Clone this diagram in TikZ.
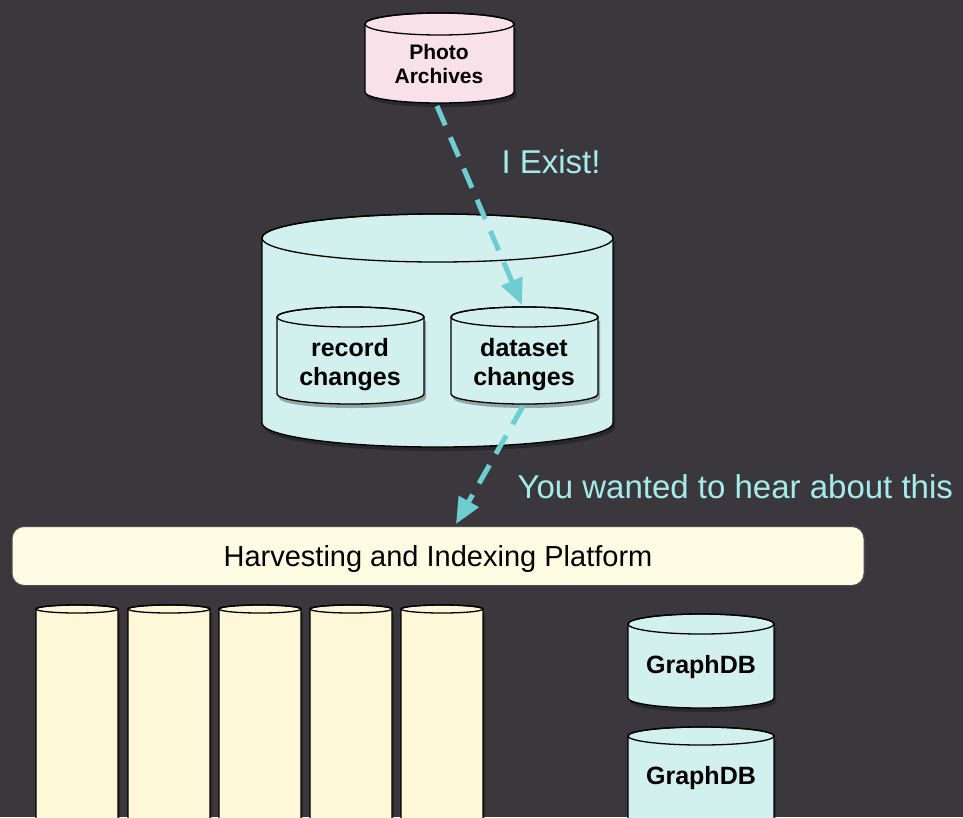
\documentclass[tikz,border=0pt]{standalone}
\usepackage{fontspec}
\setmainfont{Liberation Sans}
\usetikzlibrary{arrows.meta}

\definecolor{bgdark}{HTML}{3A383C}
\definecolor{pinkdb}{HTML}{F9E1EA}
\definecolor{cyandb}{HTML}{D2F0EE}
\definecolor{creamdb}{HTML}{FFF8D8}
\definecolor{platfill}{HTML}{FEFDE4}
\definecolor{linkcol}{HTML}{6DCDD0}
\definecolor{notecol}{HTML}{A6EBEC}

% cylinder: left, right, top centre, bottom centre, y radius, fill
\newcommand{\cyl}[6]{%
  \fill[black, opacity=0.3, shift={(2pt,-4pt)}]
    (#1,#3) -- (#1,#4)
    arc[start angle=180, end angle=0, x radius={(#2-#1)/2}, y radius=#5]
    -- (#2,#3) -- cycle;
  \filldraw[fill=#6, draw=black, line width=1.3pt]
    (#1,#3) -- (#1,#4)
    arc[start angle=180, end angle=0, x radius={(#2-#1)/2}, y radius=#5]
    -- (#2,#3)
    arc[start angle=0, end angle=-180, x radius={(#2-#1)/2}, y radius=#5]
    -- cycle;
  \draw[line width=1.3pt] ({(#1+#2)/2},#3) ellipse[x radius={(#2-#1)/2}, y radius=#5];
}

\tikzset{
  dblabel/.style={align=center, font=\fontsize{25}{29}\selectfont\bfseries},
  link/.style={linkcol, line width=5pt, dash pattern=on 21pt off 13pt,
    -{Triangle[length=26pt, width=22pt]}},
  note/.style={anchor=west, text=notecol, font=\fontsize{33}{36}\selectfont}
}

\begin{document}
\begin{tikzpicture}[x=1pt, y=-1pt]
        \fill[bgdark] (0,0) rectangle (963,817);
        \useasboundingbox (0,0) rectangle (963,817);

        % source
        \cyl{365}{514}{24}{92}{11}{pinkdb}
        \node[dblabel, font=\fontsize{21}{24}\selectfont\bfseries] (photo) at (439,64) {Photo\\Archives};

        % change store
        \cyl{262}{613}{238}{423}{24}{cyandb}
        \cyl{277}{424}{317}{394}{10}{cyandb}
        \cyl{451}{598}{317}{394}{10}{cyandb}
        \node[dblabel] (record) at (350,365) {record\\changes};
        \node[dblabel] (dataset) at (524,365) {dataset\\changes};

        % platform
        \node[draw=black!70, fill=platfill, rounded corners=12pt, line width=1pt,
              minimum width=852pt, minimum height=59pt, text depth=0pt,
              font=\fontsize{29}{32}\selectfont] (platform) at (438,556)
              {Harvesting and Indexing Platform};

        % index columns
        \foreach \cx in {36,128,219,310,401}{
          \cyl{\cx}{\cx+82}{609}{840}{4}{creamdb}
        }

        % graph stores
        \cyl{628}{774}{624}{698}{10}{cyandb}
        \cyl{628}{774}{736}{840}{9}{cyandb}
        \node[dblabel] (graph1) at (701,667) {GraphDB};
        \node[dblabel] (graph2) at (701,778) {GraphDB};

        % notifications
        \coordinate (photobot) at (437,106);
        \coordinate (datatop) at (522,305);
        \coordinate (databot) at (523,406);
        \coordinate (plattop) at (456,524);
        \draw[link] (photobot) -- (datatop);
        \draw[link] (databot) -- (plattop);

        \node[note] (exist) at (498,162) {I Exist!};
        \node[note] (wanted) at (514,487) {You wanted to hear about this};
    \end{tikzpicture}
\end{document}
